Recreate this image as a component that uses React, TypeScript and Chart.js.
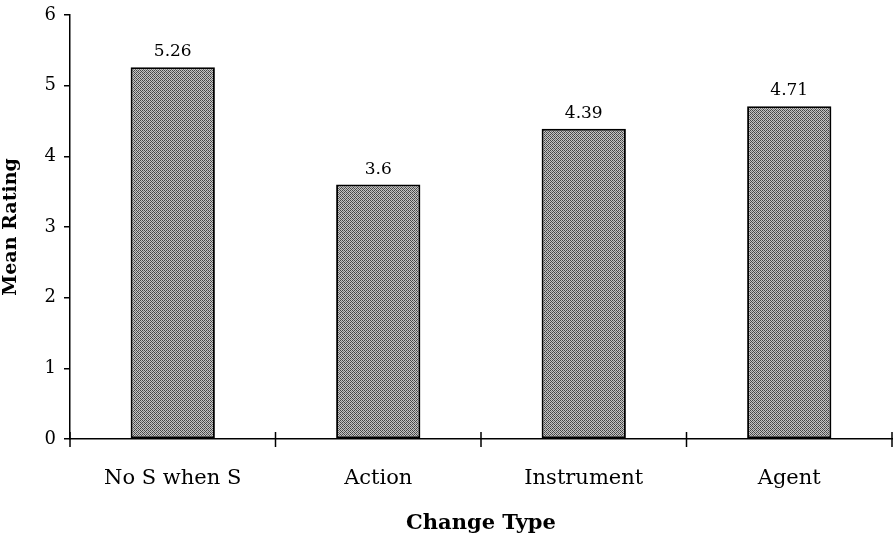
import React, { useEffect, useRef } from "react";
import { Chart, registerables } from "chart.js";

Chart.register(...registerables);

const categories = ["No S when S", "Action", "Instrument", "Agent"];
const meanRatings = [5.26, 3.6, 4.39, 4.71];
const yTicks = [0, 1, 2, 3, 4, 5, 6];

const FONT = "'DejaVu Serif', 'Liberation Serif', serif";

function makePattern(): CanvasPattern | string {
  const c = document.createElement("canvas");
  c.width = 4;
  c.height = 4;
  const ctx = c.getContext("2d");
  if (!ctx) return "#999";
  ctx.fillStyle = "#c4c4c4";
  ctx.fillRect(0, 0, 4, 4);
  ctx.fillStyle = "#464646";
  for (let y = 0; y < 4; y++) {
    for (let x = 0; x < 4; x++) {
      if ((x + y) % 2 === 0) ctx.fillRect(x, y, 1, 1);
    }
  }
  ctx.fillStyle = "#7a7a7a";
  ctx.fillRect(1, 1, 1, 1);
  ctx.fillRect(3, 3, 1, 1);
  const p = ctx.createPattern(c, "repeat");
  return p || "#999";
}

const crossTicks = {
  id: "crossTicks",
  afterDraw(chart: any) {
    const { ctx, chartArea } = chart;
    const n = categories.length;
    const w = (chartArea.right - chartArea.left) / n;
    ctx.save();
    ctx.strokeStyle = "#000";
    ctx.lineWidth = 1.5;
    for (let i = 0; i <= n; i++) {
      const x = chartArea.left + i * w;
      ctx.beginPath();
      ctx.moveTo(x, chartArea.bottom - 7);
      ctx.lineTo(x, chartArea.bottom + 8);
      ctx.stroke();
    }
    ctx.restore();
  },
};

const valueLabels = {
  id: "valueLabels",
  afterDatasetsDraw(chart: any) {
    const { ctx } = chart;
    const meta = chart.getDatasetMeta(0);
    ctx.save();
    ctx.fillStyle = "#000";
    ctx.font = `17px ${FONT}`;
    ctx.textAlign = "center";
    ctx.textBaseline = "bottom";
    meta.data.forEach((bar: any, i: number) => {
      ctx.fillText(String(meanRatings[i]), bar.x, bar.y - 7);
    });
    ctx.restore();
  },
};

export default function App() {
  const ref = useRef<HTMLCanvasElement>(null);
  useEffect(() => {
    if (!ref.current) return;
    const chart = new Chart(ref.current, {
      type: "bar",
      data: {
        labels: categories,
        datasets: [
          {
            data: meanRatings,
            backgroundColor: makePattern() as any,
            borderColor: "#000",
            borderWidth: 2,
            borderSkipped: false,
            categoryPercentage: 1,
            barPercentage: 0.41,
          },
        ],
      },
      options: {
        animation: false,
        responsive: true,
        maintainAspectRatio: false,
        layout: { padding: { top: 15, right: 4, left: 0, bottom: 0 } },
        plugins: { legend: { display: false }, tooltip: { enabled: false } },
        scales: {
          x: {
            offset: true,
            grid: { display: false, drawOnChartArea: false },
            border: { display: true, color: "#000", width: 1.5 },
            ticks: { color: "#000", font: { family: FONT, size: 21 }, padding: 19 },
            title: {
              display: true,
              text: "Change Type",
              color: "#000",
              font: { family: FONT, size: 21, weight: "bold" },
              padding: { top: 14, bottom: 0 },
            },
            afterFit(scale: any) {
              scale.height = 97;
            },
          },
          y: {
            min: 0,
            max: 6,
            afterBuildTicks(scale: any) {
              scale.ticks = yTicks.map((v) => ({ value: v }));
            },
            grid: { drawOnChartArea: false, tickLength: 6, color: "#000", lineWidth: 1.5 },
            border: { display: true, color: "#000", width: 1.5 },
            ticks: { color: "#000", font: { family: FONT, size: 18, lineHeight: 1 }, padding: 8 },
            title: {
              display: true,
              text: "Mean Rating",
              color: "#000",
              font: { family: FONT, size: 19, weight: "bold" },
              padding: { top: 0, bottom: 6 },
            },
            afterFit(scale: any) {
              scale.width = 70;
              scale.paddingTop = 0;
            },
          },
        },
      },
      plugins: [crossTicks, valueLabels],
    });
    return () => chart.destroy();
  }, []);
  return (
    <div style={{ position: "fixed", left: 0, top: 0, width: 896, height: 536, background: "#fff" }}>
      <canvas ref={ref} />
    </div>
  );
}
